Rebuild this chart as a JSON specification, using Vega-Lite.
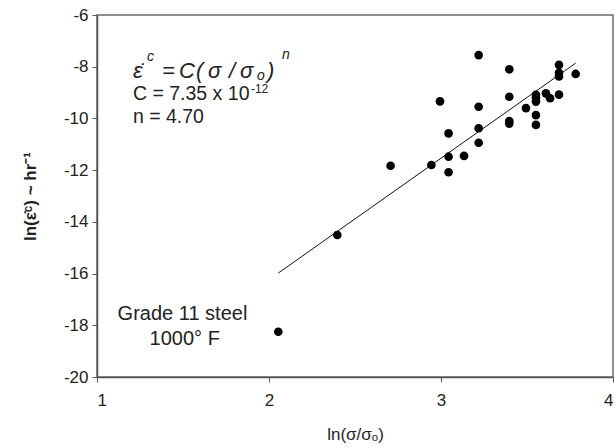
{
  "$schema": "https://vega.github.io/schema/vega-lite/v6.json",
  "width": 516,
  "height": 362,
  "autosize": {"type": "none"},
  "padding": {"left": 97, "top": 15, "right": 1, "bottom": 71},
  "background": "white",
  "config": {
    "view": {"stroke": "#6b6b6b", "strokeWidth": 1.5},
    "font": "Liberation Sans",
    "axis": {
      "grid": false,
      "domainColor": "#555555",
      "domainWidth": 1.5,
      "tickColor": "#555555",
      "tickSize": 5,
      "labelFont": "Liberation Sans",
      "labelFontSize": 17,
      "labelColor": "#222222",
      "titleFont": "Liberation Sans",
      "titleColor": "#222222"
    }
  },
  "datasets": {
    "pts": [
      {"x": 2.054, "y": -18.25},
      {"x": 2.397, "y": -14.51},
      {"x": 2.707, "y": -11.83},
      {"x": 2.944, "y": -11.80},
      {"x": 2.994, "y": -9.34},
      {"x": 3.044, "y": -10.58},
      {"x": 3.044, "y": -11.48},
      {"x": 3.044, "y": -12.08},
      {"x": 3.134, "y": -11.45},
      {"x": 3.219, "y": -7.55},
      {"x": 3.219, "y": -9.55},
      {"x": 3.219, "y": -10.38},
      {"x": 3.219, "y": -10.94},
      {"x": 3.397, "y": -8.10},
      {"x": 3.397, "y": -9.16},
      {"x": 3.397, "y": -10.10},
      {"x": 3.397, "y": -10.20},
      {"x": 3.494, "y": -9.60},
      {"x": 3.552, "y": -9.09},
      {"x": 3.552, "y": -9.20},
      {"x": 3.552, "y": -9.35},
      {"x": 3.552, "y": -9.87},
      {"x": 3.552, "y": -10.25},
      {"x": 3.610, "y": -9.03},
      {"x": 3.634, "y": -9.22},
      {"x": 3.686, "y": -7.93},
      {"x": 3.686, "y": -8.24},
      {"x": 3.686, "y": -8.38},
      {"x": 3.686, "y": -9.08},
      {"x": 3.783, "y": -8.28}
    ],
    "fit": [
      {"x": 2.054, "y": -15.98},
      {"x": 3.783, "y": -7.86}
    ],
    "eqMain": [
      {"x": 1.2093, "y": -8.436, "t": "ε̇"},
      {"x": 1.3779, "y": -8.436, "t": "="},
      {"x": 1.4767, "y": -8.436, "t": "C"},
      {"x": 1.5756, "y": -8.436, "t": "("},
      {"x": 1.6453, "y": -8.436, "t": "σ"},
      {"x": 1.7674, "y": -8.436, "t": "/"},
      {"x": 1.8314, "y": -8.436, "t": "σ"},
      {"x": 1.9884, "y": -8.436, "t": ")"}
    ],
    "eqSmall": [
      {"x": 1.2907, "y": -7.78, "t": "c"},
      {"x": 1.9302, "y": -8.50, "t": "o"},
      {"x": 2.0756, "y": -7.70, "t": "n"}
    ],
    "params": [
      {"x": 1.209, "y": -9.27, "t": "C = 7.35 x 10"},
      {"x": 1.209, "y": -10.196, "t": "n = 4.70"}
    ],
    "paramSup": [
      {"x": 1.895, "y": -9.03, "t": "-12"}
    ],
    "note": [
      {"x": 1.497, "y": -17.79, "t": "Grade 11 steel"},
      {"x": 1.51, "y": -18.76, "t": "1000° F"}
    ]
  },
  "layer": [
    {
      "data": {"name": "fit"},
      "mark": {"type": "line", "color": "#111111", "strokeWidth": 1},
      "encoding": {
        "x": {
          "field": "x", "type": "quantitative",
          "scale": {"domain": [1, 4], "nice": false, "zero": false},
          "axis": {"values": [1, 2, 3, 4], "labelExpr": "toString(datum.value)", "labelPadding": 10, "title": "ln(σ/σₒ)", "titleFontSize": 17, "titleFontWeight": "normal", "titlePadding": 18}
        },
        "y": {
          "field": "y", "type": "quantitative",
          "scale": {"domain": [-20, -6], "nice": false, "zero": false},
          "axis": {"values": [-20, -18, -16, -14, -12, -10, -8, -6], "labelExpr": "toString(datum.value)", "labelPadding": 4, "title": "ln(ε̇ᶜ) ~ hr⁻¹", "titleFontSize": 17, "titleFontWeight": "bold", "titlePadding": 24}
        }
      }
    },
    {
      "data": {"name": "pts"},
      "mark": {"type": "point", "filled": true, "color": "#000000", "size": 75, "opacity": 1},
      "encoding": {
        "x": {"field": "x", "type": "quantitative"},
        "y": {"field": "y", "type": "quantitative"}
      }
    },
    {
      "data": {"name": "eqMain"},
      "mark": {"type": "text", "align": "left", "baseline": "alphabetic", "fontSize": 22, "fontStyle": "italic", "color": "#222222", "font": "Liberation Sans"},
      "encoding": {
        "x": {"field": "x", "type": "quantitative"},
        "y": {"field": "y", "type": "quantitative"},
        "text": {"field": "t"}
      }
    },
    {
      "data": {"name": "eqSmall"},
      "mark": {"type": "text", "align": "left", "baseline": "alphabetic", "fontSize": 14, "fontStyle": "italic", "color": "#222222", "font": "Liberation Sans"},
      "encoding": {
        "x": {"field": "x", "type": "quantitative"},
        "y": {"field": "y", "type": "quantitative"},
        "text": {"field": "t"}
      }
    },
    {
      "data": {"name": "params"},
      "mark": {"type": "text", "align": "left", "baseline": "alphabetic", "fontSize": 19.5, "color": "#222222", "font": "Liberation Sans"},
      "encoding": {
        "x": {"field": "x", "type": "quantitative"},
        "y": {"field": "y", "type": "quantitative"},
        "text": {"field": "t"}
      }
    },
    {
      "data": {"name": "paramSup"},
      "mark": {"type": "text", "align": "left", "baseline": "alphabetic", "fontSize": 12, "color": "#222222", "font": "Liberation Sans"},
      "encoding": {
        "x": {"field": "x", "type": "quantitative"},
        "y": {"field": "y", "type": "quantitative"},
        "text": {"field": "t"}
      }
    },
    {
      "data": {"name": "note"},
      "mark": {"type": "text", "align": "center", "baseline": "alphabetic", "fontSize": 20, "color": "#222222", "font": "Liberation Sans"},
      "encoding": {
        "x": {"field": "x", "type": "quantitative"},
        "y": {"field": "y", "type": "quantitative"},
        "text": {"field": "t"}
      }
    }
  ]
}
